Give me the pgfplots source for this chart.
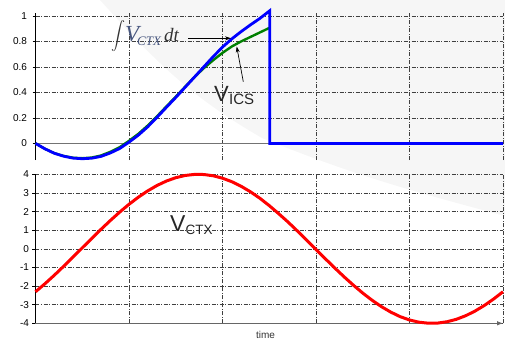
\documentclass[border=0pt]{standalone}
\usepackage{pgfplots}
\pgfplotsset{compat=1.18}
\usepackage{fontspec}
\setmainfont{Liberation Sans}
\newfontfamily\serifit{Liberation Serif}
\usetikzlibrary{arrows.meta}

\definecolor{curveblue}{RGB}{0,0,255}
\definecolor{curvegreen}{RGB}{0,128,0}
\definecolor{curvered}{RGB}{255,0,0}
\definecolor{backdrop}{RGB}{246,246,246}
\definecolor{slate}{RGB}{70,85,125}

\pgfplotsset{
  scopeplot/.style={
    scale only axis, width=467.5pt, clip=false,
    xmin=0, xmax=5, xtick={1,2,3,4,5},
    xmajorticks=false, xmajorgrids=true, ymajorgrids=true,
    axis lines=left,
    y axis line style={-, line width=1.8pt, black},
    tick align=outside, major tick length=3pt,
    tick style={black, line width=0.6pt},
    major grid style={black!75, line width=0.6pt,
      dash pattern=on 4pt off 1.5pt on 1pt off 1.5pt},
    /pgf/number format/assume math mode=true,
    yticklabel style={font=\fontsize{10}{10}\selectfont, text=black},
  }
}

\begin{document}
\begin{tikzpicture}
\path[use as bounding box] (0pt,0pt) rectangle (505pt,-343pt);

% faint backdrop in the upper right
\fill[backdrop] (100pt,0pt) to[out=-48,in=150] (262pt,-138pt)
  to[out=-22,in=165] (505pt,-216pt) -- (505pt,0pt) -- cycle;

% ---- upper panel: integral of V_CTX and V_ICS
\begin{axis}[scopeplot, at={(35.5pt,-160pt)}, anchor=south west,
  height=146.7pt, ymin=-0.13, ymax=1.02,
  ytick={0,0.2,0.4,0.6,0.8,1},
  x axis line style={draw=none},
  yticklabel style={xshift=-2pt}]
\draw[black!55, line width=0.8pt] (axis cs:0,0) -- (axis cs:5,0);
\addplot[curvegreen, line width=2.4pt] coordinates {
 (0,0) (0.1,-0.042) (0.2,-0.076) (0.3,-0.098) (0.4,-0.112) (0.5,-0.116)
 (0.6,-0.111) (0.7,-0.095) (0.8,-0.066) (0.9,-0.03) (1.0,0.02) (1.1,0.075)
 (1.2,0.14) (1.3,0.213) (1.4,0.29) (1.5,0.366) (1.6,0.444) (1.7,0.52)
 (1.8,0.59) (1.9,0.652) (2.0,0.71) (2.1,0.76) (2.2,0.8) (2.3,0.835)
 (2.4,0.87) (2.5,0.905)};
\addplot[curveblue, line width=2.8pt] coordinates {
 (0,0) (0.1,-0.042) (0.2,-0.077) (0.3,-0.10) (0.4,-0.115) (0.5,-0.12)
 (0.6,-0.116) (0.7,-0.102) (0.8,-0.075) (0.9,-0.04) (1.0,0.01) (1.1,0.065)
 (1.2,0.13) (1.3,0.205) (1.4,0.283) (1.5,0.36) (1.6,0.44) (1.7,0.52)
 (1.8,0.6) (1.9,0.68) (2.0,0.755) (2.1,0.82) (2.2,0.877) (2.3,0.93)
 (2.4,0.98) (2.505,1.04) (2.505,0) (5,0)};
\end{axis}

% ---- lower panel: V_CTX
\begin{axis}[scopeplot, at={(35.5pt,-323.3pt)}, anchor=south west,
  height=149pt, ymin=-4, ymax=4, ytick={-4,-3,-2,-1,0,1,2,3,4},
  x axis line style={-{Latex[length=6pt,width=4.5pt]}, black!60, line width=0.8pt}]
\addplot[curvered, line width=3pt] coordinates {
 (0,-2.308) (0.1,-1.881) (0.2,-1.424) (0.3,-0.945) (0.4,-0.451) (0.5,0.050)
 (0.6,0.551) (0.7,1.042) (0.8,1.517) (0.9,1.969) (1.0,2.389) (1.1,2.772)
 (1.2,3.110) (1.3,3.401) (1.4,3.638) (1.5,3.818) (1.6,3.937) (1.7,3.994)
 (1.8,3.989) (1.9,3.922) (2.0,3.791) (2.1,3.601) (2.2,3.356) (2.3,3.057)
 (2.4,2.712) (2.5,2.320) (2.6,1.890) (2.7,1.442) (2.8,0.961) (2.9,0.467)
 (3.0,-0.034) (3.1,-0.535) (3.2,-1.027) (3.3,-1.502) (3.4,-1.954) (3.5,-2.377)
 (3.6,-2.763) (3.7,-3.106) (3.8,-3.400) (3.9,-3.642) (4.0,-3.821) (4.1,-3.939)
 (4.2,-3.994) (4.3,-3.988) (4.4,-3.918) (4.5,-3.787) (4.6,-3.594) (4.7,-3.346)
 (4.8,-3.043) (4.9,-2.694) (5.0,-2.304)};
\end{axis}

% ---- annotations
\node[text=black!80, inner sep=0] at (118.5pt,-36pt)
  {\scalebox{1.4}{$\displaystyle\int$}};
\node[anchor=base west, inner sep=0, text=slate] at (125pt,-41pt)
  {\serifit\itshape\fontsize{23}{23}\selectfont V};
\node[anchor=base west, inner sep=0, text=slate] at (137pt,-45pt)
  {\serifit\itshape\fontsize{13}{13}\selectfont CTX};
\node[anchor=base west, inner sep=0, text=black!80] at (164pt,-41.5pt)
  {\serifit\itshape\fontsize{19}{19}\selectfont dt};
\draw[-{Stealth[length=6pt,width=4pt]}, line width=0.7pt] (188pt,-38.3pt) -- (231pt,-38.3pt);

\node[anchor=base west, inner sep=0, text=black!85] at (214pt,-101.5pt)
  {\fontsize{22}{22}\selectfont V};
\node[anchor=base west, inner sep=0, text=black!85] at (229pt,-104pt)
  {\fontsize{15}{15}\selectfont ICS};
\draw[-{Stealth[length=6pt,width=4pt]}, line width=0.7pt] (243.3pt,-81.7pt) -- (236.7pt,-46.5pt);

\node[anchor=base west, inner sep=0, text=black!85] at (170pt,-231.7pt)
  {\fontsize{23}{23}\selectfont V};
\node[anchor=base west, inner sep=0, text=black!85] at (185.5pt,-234.3pt)
  {\fontsize{13.5}{13.5}\selectfont CTX};

\node[text=black!80, inner sep=0] at (265.5pt,-335pt)
  {\fontsize{10}{10}\selectfont time};
\end{tikzpicture}
\end{document}
